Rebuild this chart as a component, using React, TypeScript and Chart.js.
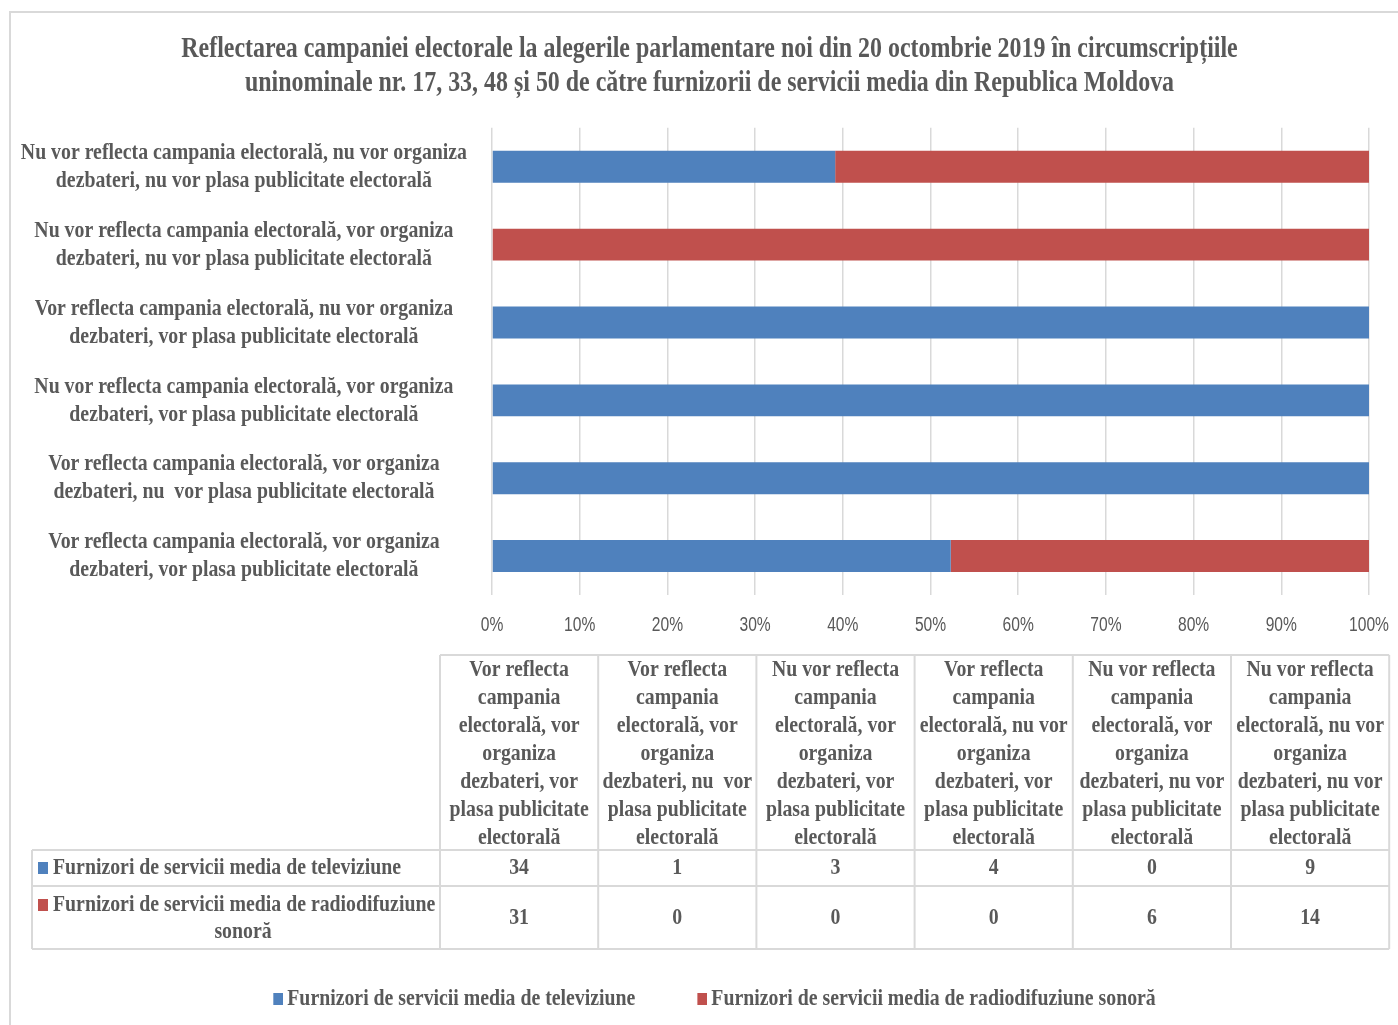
import React, { useEffect, useRef } from 'react';
import { Chart, registerables } from 'chart.js';

Chart.register(...registerables);

const W = 1398;
const H = 1025;

const TITLE_LINES = [
  'Reflectarea campaniei electorale la alegerile parlamentare noi din 20 octombrie 2019 în circumscripțiile',
  'uninominale nr. 17, 33, 48 și 50 de către furnizorii de servicii media din Republica Moldova',
];

// Categories in table order (the chart shows them bottom-to-top)
const CATEGORY_LABELS = [
  ['Vor reflecta campania electorală, vor organiza', 'dezbateri, vor plasa publicitate electorală'],
  ['Vor reflecta campania electorală, vor organiza', 'dezbateri, nu  vor plasa publicitate electorală'],
  ['Nu vor reflecta campania electorală, vor organiza', 'dezbateri, vor plasa publicitate electorală'],
  ['Vor reflecta campania electorală, nu vor organiza', 'dezbateri, vor plasa publicitate electorală'],
  ['Nu vor reflecta campania electorală, vor organiza', 'dezbateri, nu vor plasa publicitate electorală'],
  ['Nu vor reflecta campania electorală, nu vor organiza', 'dezbateri, nu vor plasa publicitate electorală'],
];

const TABLE_HEADERS = [
  ['Vor reflecta', 'campania', 'electorală, vor', 'organiza', 'dezbateri, vor', 'plasa publicitate', 'electorală'],
  ['Vor reflecta', 'campania', 'electorală, vor', 'organiza', 'dezbateri, nu  vor', 'plasa publicitate', 'electorală'],
  ['Nu vor reflecta', 'campania', 'electorală, vor', 'organiza', 'dezbateri, vor', 'plasa publicitate', 'electorală'],
  ['Vor reflecta', 'campania', 'electorală, nu vor', 'organiza', 'dezbateri, vor', 'plasa publicitate', 'electorală'],
  ['Nu vor reflecta', 'campania', 'electorală, vor', 'organiza', 'dezbateri, nu vor', 'plasa publicitate', 'electorală'],
  ['Nu vor reflecta', 'campania', 'electorală, nu vor', 'organiza', 'dezbateri, nu vor', 'plasa publicitate', 'electorală'],
];

const SERIES_NAMES = [
  'Furnizori de servicii media de televiziune',
  'Furnizori de servicii media de radiodifuziune sonoră',
];
const TABLE_ROW_LABELS = [
  ['Furnizori de servicii media de televiziune'],
  ['Furnizori de servicii media de radiodifuziune', 'sonoră'],
];

const TV = [34, 1, 3, 4, 0, 9];
const RADIO = [31, 0, 0, 0, 6, 14];

const X_MIN = 0;
const X_MAX = 100;
const X_STEP = 10;

const SERIF = "'Liberation Serif', 'Times New Roman', serif";
const SANS = "'Liberation Sans', Arial, sans-serif";
const TEXT_COLOR = '#595959';
const GRID_COLOR = '#d9d9d9';
const TV_COLOR = '#4f81bd';
const RADIO_COLOR = '#c0504d';
const COLORS = [TV_COLOR, RADIO_COLOR];
const SERIF_SX = 0.825;
const SANS_SX = 0.78;
const LEGEND_SHIFT = 21;
const TITLE_SHIFT = 20;

// table geometry
const TABLE_LEFT = 32;
const TABLE_LABEL_W = 408;
const TABLE_COL_W = 158.2;
const TABLE_TOP = 655;
const HEAD_H = 195;
const ROW_H = [36, 63];
const HEAD_LINE = 28;

const pct = (a: number, b: number) => (a + b === 0 ? 0 : (a / (a + b)) * 100);

function condenseText(ctx: any) {
  if (ctx.__condensed) return;
  ctx.__condensed = true;
  const fill = ctx.fillText.bind(ctx);
  const measure = ctx.measureText.bind(ctx);
  const factor = () => {
    const f: string = ctx.font;
    if (f.includes('Serif')) return SERIF_SX;
    if (f.includes('Sans')) return SANS_SX;
    return 1;
  };
  ctx.fillText = (text: string, x: number, y: number, maxWidth?: number) => {
    const k = factor();
    ctx.save();
    ctx.translate(x, y);
    ctx.scale(k, 1);
    if (maxWidth === undefined) fill(text, 0, 0);
    else fill(text, 0, 0, maxWidth / k);
    ctx.restore();
  };
  ctx.measureText = (text: string) => {
    const m = measure(text);
    const k = factor();
    return {
      width: m.width * k,
      actualBoundingBoxAscent: m.actualBoundingBoxAscent,
      actualBoundingBoxDescent: m.actualBoundingBoxDescent,
      actualBoundingBoxLeft: m.actualBoundingBoxLeft * k,
      actualBoundingBoxRight: m.actualBoundingBoxRight * k,
      fontBoundingBoxAscent: m.fontBoundingBoxAscent,
      fontBoundingBoxDescent: m.fontBoundingBoxDescent,
    };
  };
}

// legend swatch: a 10x12 square placed at the right of a wider transparent image,
// so the square sits close to its label text
function makeSwatch(color: string) {
  const c = document.createElement('canvas');
  c.width = 26;
  c.height = 12;
  const g = c.getContext('2d')!;
  g.fillStyle = color;
  g.fillRect(16, 0, 10, 12);
  return c;
}

const framePlugin = {
  id: 'frame',
  beforeDraw(chart: any) {
    const ctx = chart.ctx;
    ctx.save();
    ctx.fillStyle = '#ffffff';
    ctx.fillRect(0, 0, chart.width, chart.height);
    ctx.strokeStyle = GRID_COLOR;
    ctx.lineWidth = 2;
    ctx.strokeRect(10, 12, chart.width + 20, chart.height + 20);
    ctx.restore();
  },
};

const boxShiftPlugin = {
  id: 'boxShift',
  afterLayout(chart: any) {
    const l = chart.legend;
    if (l) {
      l.left += LEGEND_SHIFT;
      l.right += LEGEND_SHIFT;
    }
    const t = chart.titleBlock;
    if (t) {
      t.left += TITLE_SHIFT;
      t.right += TITLE_SHIFT;
    }
  },
};

const tablePlugin = {
  id: 'dataTable',
  afterDraw(chart: any) {
    const ctx = chart.ctx;
    const colX = (i: number) => TABLE_LEFT + TABLE_LABEL_W + i * TABLE_COL_W;
    const right = colX(TABLE_HEADERS.length);
    const row1Top = TABLE_TOP + HEAD_H;
    const row2Top = row1Top + ROW_H[0];
    const bottom = row2Top + ROW_H[1];
    ctx.save();
    ctx.strokeStyle = GRID_COLOR;
    ctx.lineWidth = 2;
    ctx.beginPath();
    ctx.moveTo(colX(0), TABLE_TOP);
    ctx.lineTo(right, TABLE_TOP);
    for (const y of [row1Top, row2Top, bottom]) {
      ctx.moveTo(TABLE_LEFT, y);
      ctx.lineTo(right, y);
    }
    ctx.moveTo(TABLE_LEFT, row1Top);
    ctx.lineTo(TABLE_LEFT, bottom);
    for (let i = 0; i <= TABLE_HEADERS.length; i++) {
      ctx.moveTo(colX(i), TABLE_TOP);
      ctx.lineTo(colX(i), bottom);
    }
    ctx.stroke();

    ctx.fillStyle = TEXT_COLOR;
    ctx.font = `bold 24px ${SERIF}`;
    ctx.textAlign = 'center';
    ctx.textBaseline = 'middle';
    TABLE_HEADERS.forEach((lines, i) => {
      const cx = colX(i) + TABLE_COL_W / 2;
      lines.forEach((line, j) => ctx.fillText(line, cx, TABLE_TOP + 15 + j * HEAD_LINE));
    });

    const rowTops = [row1Top, row2Top];
    const series = [TV, RADIO];
    series.forEach((vals, r) => {
      const cy = rowTops[r] + ROW_H[r] / 2;
      vals.forEach((v, i) => {
        ctx.fillText(String(v), colX(i) + TABLE_COL_W / 2, cy);
      });
    });

    TABLE_ROW_LABELS.forEach((lines, r) => {
      const firstY = r === 0 ? rowTops[r] + ROW_H[r] / 2 : rowTops[r] + 19;
      ctx.fillStyle = COLORS[r];
      ctx.fillRect(TABLE_LEFT + 6, firstY - 6, 10, 12);
      ctx.fillStyle = TEXT_COLOR;
      lines.forEach((line, j) => {
        if (j === 0) {
          ctx.textAlign = 'left';
          ctx.fillText(line, TABLE_LEFT + 21, firstY);
        } else {
          ctx.textAlign = 'center';
          ctx.fillText(line, TABLE_LEFT + TABLE_LABEL_W / 2 + 7, firstY + 27 * j);
        }
      });
    });
    ctx.restore();
  },
};

export default function App() {
  const ref = useRef<HTMLCanvasElement>(null);
  useEffect(() => {
    const canvas = ref.current!;
    const ctx = canvas.getContext('2d')!;
    condenseText(ctx);
    const swatches = COLORS.map(makeSwatch);
    const chart = new Chart(ctx, {
      type: 'bar',
      data: {
        labels: CATEGORY_LABELS,
        datasets: [
          {
            label: SERIES_NAMES[0],
            data: TV.map((v, i) => pct(v, RADIO[i])),
            backgroundColor: TV_COLOR,
            barPercentage: 0.41,
            categoryPercentage: 1,
          },
          {
            label: SERIES_NAMES[1],
            data: RADIO.map((v, i) => pct(v, TV[i])),
            backgroundColor: RADIO_COLOR,
            barPercentage: 0.41,
            categoryPercentage: 1,
          },
        ],
      },
      options: {
        indexAxis: 'y',
        responsive: false,
        animation: false,
        layout: { padding: { left: 10, right: 29, top: 14, bottom: 4 } },
        scales: {
          x: {
            stacked: true,
            min: X_MIN,
            max: X_MAX,
            ticks: {
              stepSize: X_STEP,
              maxRotation: 0,
              autoSkip: false,
              callback: (v: any) => `${v}%`,
              color: TEXT_COLOR,
              font: { family: SANS, size: 20 },
              padding: 2,
            },
            grid: {
              color: GRID_COLOR,
              lineWidth: 1.5,
              drawTicks: true,
              tickLength: 16,
              tickColor: 'rgba(0,0,0,0)',
            },
            border: { display: false },
            afterFit: (s: any) => {
              s.height = 338;
            },
          },
          y: {
            stacked: true,
            reverse: true,
            ticks: {
              crossAlign: 'center',
              color: TEXT_COLOR,
              font: { family: SERIF, size: 24, weight: 'bold', lineHeight: 1.17 },
              padding: 17,
              autoSkip: false,
            },
            grid: { display: false },
            border: { display: false },
            afterFit: (s: any) => {
              s.width = 482;
            },
          },
        },
        plugins: {
          title: {
            display: true,
            text: TITLE_LINES,
            color: TEXT_COLOR,
            font: { family: SERIF, size: 29, weight: 'bold', lineHeight: 1.17 },
            padding: { top: 19, bottom: 27 },
          },
          legend: {
            position: 'bottom',
            labels: {
              color: TEXT_COLOR,
              font: { family: SERIF, size: 24, weight: 'bold' },
              usePointStyle: true,
              pointStyleWidth: 10,
              boxWidth: 10,
              boxHeight: 12,
              padding: 54,
              generateLabels: (c: any) => {
                const items = (Chart as any).defaults.plugins.legend.labels.generateLabels(c);
                return items.map((it: any, i: number) => ({ ...it, pointStyle: swatches[i], lineWidth: 0 }));
              },
            },
          },
          tooltip: { enabled: false },
        },
      } as any,
      plugins: [framePlugin, boxShiftPlugin, tablePlugin],
    });
    return () => chart.destroy();
  }, []);
  return (
    <div style={{ position: 'absolute', left: 0, top: 0, width: W, height: H }}>
      <canvas ref={ref} width={W} height={H} style={{ display: 'block', width: W, height: H }} />
    </div>
  );
}
